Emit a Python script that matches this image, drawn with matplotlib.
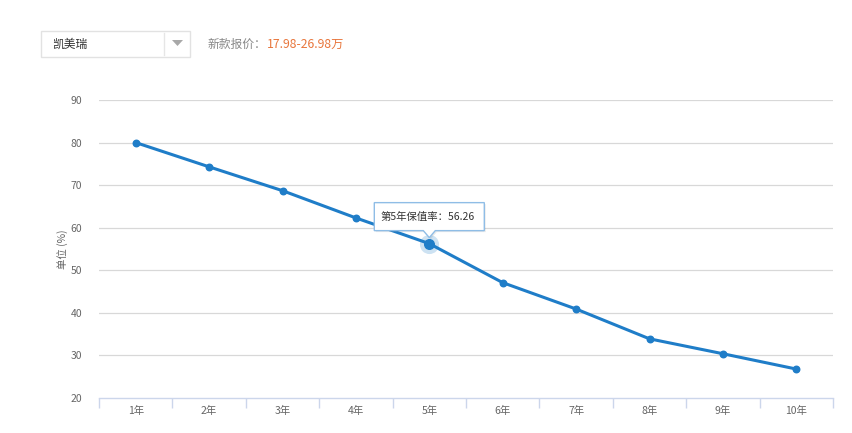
import matplotlib.pyplot as plt
import matplotlib.patches as patches
import matplotlib.transforms as mtransforms
import numpy as np

plt.rcParams['font.family'] = ['Noto Sans CJK SC', 'DejaVu Sans']

# 数据
years = ['1年', '2年', '3年', '4年', '5年', '6年', '7年', '8年', '9年', '10年']
rates = [80.0, 74.3, 68.7, 62.3, 56.26, 47.1, 40.9, 33.9, 30.4, 26.8]
y_ticks = [20, 30, 40, 50, 60, 70, 80, 90]
car_name = '凯美瑞'
price_label = '新款报价：'
price_value = '17.98-26.98万'
hover_idx = 4

W, H = 852, 433
fig = plt.figure(figsize=(W / 100, H / 100), dpi=100)
fig.patch.set_facecolor('white')

def fx(px):
    return px / W

def fy(py):
    return 1 - py / H

ax = fig.add_axes([fx(99), fy(398), fx(833) - fx(99), fy(100) - fy(398)])
x = np.arange(len(years))
ax.set_xlim(-0.5, len(years) - 0.5)
ax.set_ylim(20, 90)

for v in y_ticks[1:]:
    ax.axhline(v, color='#d8d8d8', lw=0.9, zorder=1)

ax.plot(x, rates, color='#1f7dc8', lw=2.2, zorder=3, solid_capstyle='round')
ax.scatter(x, rates, s=22, color='#1f7dc8', zorder=4)
# 悬停点
ax.scatter([x[hover_idx]], [rates[hover_idx]], s=190, color='#1f7dc8', alpha=0.22, zorder=3, lw=0)
ax.scatter([x[hover_idx]], [rates[hover_idx]], s=48, color='#1f7dc8', zorder=5)

for s in ['top', 'right', 'left']:
    ax.spines[s].set_visible(False)
ax.spines['bottom'].set_color('#ccd6eb')
ax.spines['bottom'].set_linewidth(1)

ax.set_yticks(y_ticks)
ax.tick_params(axis='y', length=0, labelsize=7.5, labelcolor='#666666', pad=12)
ax.set_xticks(x)
ax.set_xticklabels(years)
ax.tick_params(axis='x', length=0, labelsize=7.5, labelcolor='#666666', pad=6)
ax.set_xticks(np.arange(-0.5, len(years) + 0.5, 1), minor=True)
ax.tick_params(axis='x', which='minor', length=7, color='#ccd6eb', width=1)

ax.set_ylabel('单位 (%)', fontsize=7.5, color='#666666', labelpad=2)

# 提示框（带小三角）
tx, ty = x[hover_idx], rates[hover_idx]
trans = mtransforms.Affine2D() + mtransforms.ScaledTranslation(tx, ty, ax.transData)
box = [(-55, 13), (-6, 13), (0, 6), (6, 13), (55, 13), (55, 41), (-55, 41)]
shadow = [(px + 1.5, py - 1.5) for px, py in box]
ax.add_patch(patches.Polygon(shadow, closed=True, transform=trans, fc='#000000', alpha=0.08,
                             ec='none', zorder=6, clip_on=False))
ax.add_patch(patches.Polygon(box, closed=True, transform=trans, fc='white', ec='#8fbde6',
                             lw=1, zorder=7, clip_on=False))
ax.text(-49, 27, '第5年保值率：56.26', transform=trans, ha='left', va='center',
        fontsize=7.5, color='#333333', zorder=8)

# 顶部选择框
fig.patches.append(patches.Rectangle((fx(41), fy(57)), fx(190) - fx(41), fy(31) - fy(57),
                                     transform=fig.transFigure, fc='white', ec='#e2e2e2', lw=1))
fig.lines.append(plt.Line2D([fx(164), fx(164)], [fy(33), fy(55)], transform=fig.transFigure,
                            color='#e6e6e6', lw=1))
fig.patches.append(patches.Polygon([[fx(172), fy(40)], [fx(183), fy(40)], [fx(177.5), fy(46)]],
                                   closed=True, transform=fig.transFigure, fc='#a8a8a8', ec='none'))
fig.text(fx(52), fy(44), car_name, fontsize=8.5, color='#333333', va='center', ha='left')
fig.text(fx(208), fy(44), price_label, fontsize=8.5, color='#888888', va='center', ha='left')
fig.text(fx(267), fy(44), price_value, fontsize=8.8, color='#e8763c', va='center', ha='left')

fig.savefig('out.png', dpi=100)
